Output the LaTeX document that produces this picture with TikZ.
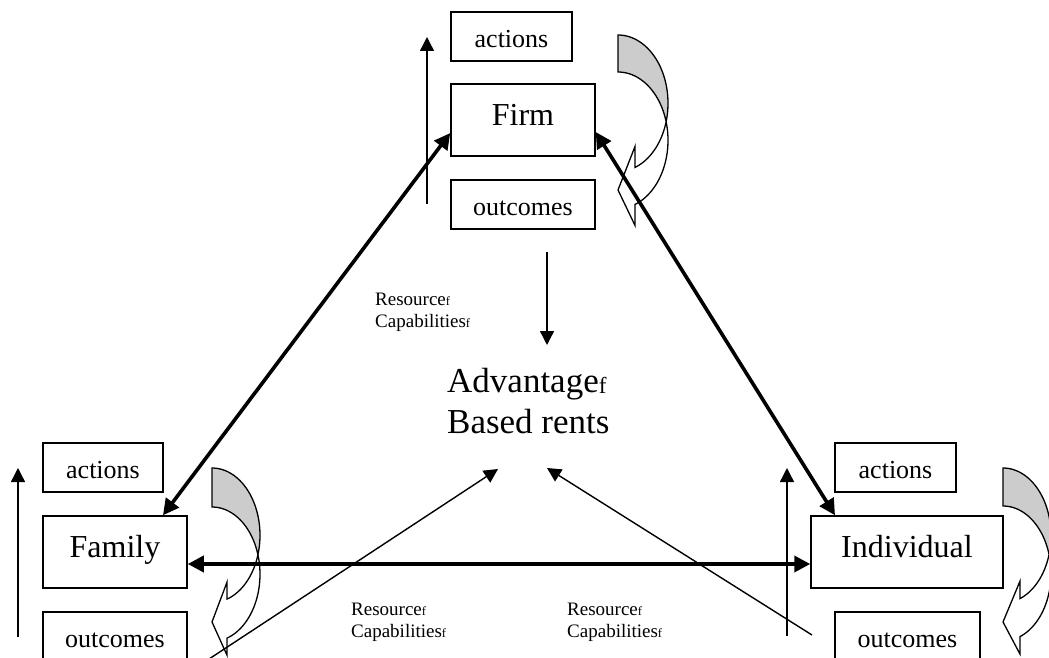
\documentclass[tikz,border=0pt]{standalone}
\usepackage{fontspec}
\setmainfont{Liberation Serif}
\usetikzlibrary{arrows.meta}

% small index letter "f" set just above the baseline
\newcommand{\idxf}{\raisebox{-0.04em}{\scalebox{0.66}{f}}}

% U-turn arrow: band curving out to the right, tail at top left,
% head at bottom left pointing left.
% #1 left x, #2 top y, #3 width, #4 height, #5 band thickness,
% #6 head width, #7 head length
\newcommand{\uturnarrow}[7]{%
  \pgfmathsetmacro{\cvL}{#1}%
  \pgfmathsetmacro{\cvT}{#2}%
  \pgfmathsetmacro{\cvW}{#3}%
  \pgfmathsetmacro{\cvTh}{#5}%
  \pgfmathsetmacro{\cvR}{#4/2-(#5+#6)/4}%
  \pgfmathsetmacro{\cvA}{\cvT+\cvR}%
  \pgfmathsetmacro{\cvB}{\cvA+\cvTh}%
  \pgfmathsetmacro{\cvPhi}{acos(#7/\cvW)}%
  \pgfmathsetmacro{\cvPsi}{asin(\cvTh/(2*\cvR))}%
  \pgfmathsetmacro{\cvX}{\cvL+#7}%
  \pgfmathsetmacro{\cvDh}{(#6-\cvTh)/2}%
  \pgfmathsetmacro{\cvYa}{\cvA+\cvR*sin(\cvPhi)-\cvDh}%
  \pgfmathsetmacro{\cvYb}{\cvB+\cvR*sin(\cvPhi)+\cvDh}%
  \pgfmathsetmacro{\cvYt}{\cvT+#4-#6/2}%
  % whole band, front face
  \fill[white] plot[domain=-90:\cvPhi,samples=60] ({\cvL+\cvW*cos(\x)},{\cvA+\cvR*sin(\x)})
     -- (\cvX,\cvYa) -- (\cvL,\cvYt) -- (\cvX,\cvYb)
     -- plot[domain=\cvPhi:-90,samples=60] ({\cvL+\cvW*cos(\x)},{\cvB+\cvR*sin(\x)}) -- cycle;
  % back face seen at the top of the turn
  \fill[backface] plot[domain=-90:\cvPsi,samples=40] ({\cvL+\cvW*cos(\x)},{\cvA+\cvR*sin(\x)})
     -- plot[domain=-\cvPsi:-90,samples=40] ({\cvL+\cvW*cos(\x)},{\cvB+\cvR*sin(\x)}) -- cycle;
  % outline
  \draw[turnline] plot[domain=-90:\cvPhi,samples=60] ({\cvL+\cvW*cos(\x)},{\cvA+\cvR*sin(\x)})
     -- (\cvX,\cvYa) -- (\cvL,\cvYt) -- (\cvX,\cvYb)
     -- plot[domain=\cvPhi:-90,samples=60] ({\cvL+\cvW*cos(\x)},{\cvB+\cvR*sin(\x)}) -- cycle;
}

\tikzset{
  backface/.style={fill=black!20},
  turnline/.style={draw=black, line width=1.3pt, line join=miter},
  smallbox/.style={draw, line width=1.5pt, inner sep=0pt, minimum height=49pt,
    font=\fontsize{26}{30}\selectfont, text height=26pt, text depth=4pt},
  bigbox/.style={draw, line width=1.5pt, inner sep=0pt, minimum height=72pt,
    font=\fontsize{32}{38}\selectfont, text height=19pt, text depth=8pt},
  flowarrow/.style={line width=1.4pt, -{Triangle[length=14pt,width=14pt]}},
  linkarrow/.style={line width=3.6pt,
    {Triangle[length=16pt,width=16pt]}-{Triangle[length=16pt,width=16pt]}},
  rclabel/.style={anchor=base west, align=left, inner sep=0pt,
    font=\fontsize{19}{22}\selectfont},
}

\begin{document}
\begin{tikzpicture}[x=1pt,y=-1pt]
\useasboundingbox (0,0) rectangle (1049,658);
\clip (0,0) rectangle (1049,658);

% U-turn arrows beside the three parties
\uturnarrow{618}{35}{50}{194.5}{37}{79}{17}
\uturnarrow{212}{468}{48}{190.5}{39}{73}{15}
\uturnarrow{1003}{468}{48}{190.5}{38}{73}{17}

% Firm
\node[smallbox, minimum width=121pt] (factions) at (511.5,36.5) {actions};
\node[bigbox,   minimum width=144pt] (firm)     at (523,120)    {Firm};
\node[smallbox, minimum width=144pt] (foutc)    at (523,204.5)  {outcomes};

% Family
\node[smallbox, minimum width=120pt] (faactions) at (103,467.5) {actions};
\node[bigbox,   minimum width=144pt] (family)    at (115,552)   {Family};
\node[smallbox, minimum width=144pt] (faoutc)    at (115,636.5) {outcomes};

% Individual
\node[smallbox, minimum width=121pt] (iactions) at (895.5,467.5) {actions};
\node[bigbox,   minimum width=192pt] (indiv)    at (907,552)     {Individual};
\node[smallbox, minimum width=145pt] (ioutc)    at (907.5,636.5) {outcomes};

% centre (anchored on the baseline of the last line)
\node[anchor=base west, align=left, inner sep=0pt,
      font=\fontsize{35}{41}\selectfont] (adv) at (447,433)
      {Advantage\idxf\\Based rents};

% resource labels (anchored on the baseline of the last line)
\node[rclabel] (rcfirm)  at (375,327) {Resource\idxf\\Capabilities\idxf};
\node[rclabel] (rcfam)   at (351,637) {Resource\idxf\\Capabilities\idxf};
\node[rclabel] (rcindiv) at (567,637) {Resource\idxf\\Capabilities\idxf};

% free ends of the thin arrows
\coordinate (fupS) at (427,204);  \coordinate (fupE) at (427,37);
\coordinate (faupS) at (18,637);  \coordinate (faupE) at (18,468);
\coordinate (iupS) at (787,636);  \coordinate (iupE) at (787,468);
\coordinate (dnS) at (547,252);   \coordinate (dnE) at (547,345);
\coordinate (blS) at (206,661);   \coordinate (blE) at (498,469);
\coordinate (brS) at (812,635);   \coordinate (brE) at (547,468);

% thin arrows
\draw[flowarrow] (fupS) -- (fupE);
\draw[flowarrow] (faupS) -- (faupE);
\draw[flowarrow] (iupS) -- (iupE);
\draw[flowarrow] (dnS) -- (dnE);
\draw[flowarrow] (blS) -- (blE);
\draw[flowarrow] (brS) -- (brE);

% links between the parties
\draw[linkarrow] ([yshift=-13pt]firm.west) -- ([xshift=48pt]family.north);
\draw[linkarrow] ([yshift=-12pt]firm.east) -- ([xshift=-72pt]indiv.north);
\draw[linkarrow] ([yshift=-12pt]family.east) -- ([yshift=-12pt]indiv.west);
\end{tikzpicture}
\end{document}
